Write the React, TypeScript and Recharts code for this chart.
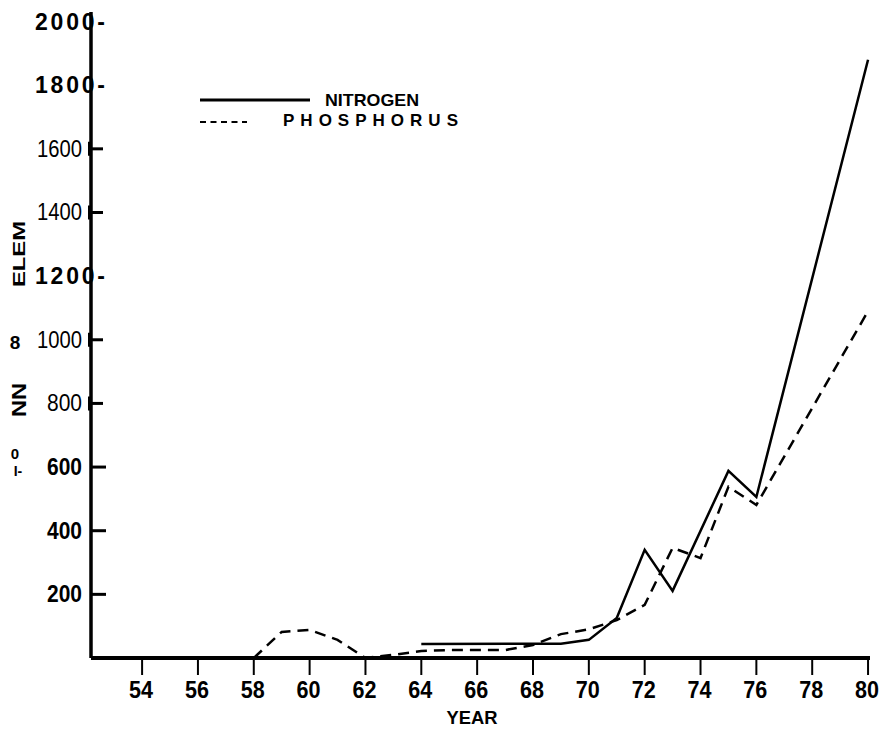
import { LineChart, Line, XAxis, YAxis, Legend } from "recharts";

// values (years 19xx)
const nitrogenYears = [64, 69, 70, 71, 72, 73, 75, 76, 80];
const nitrogenValues = [44, 45, 57, 126, 340, 211, 588, 506, 1880];

const phosphorusYears = [58, 59, 60, 61, 62, 63, 64, 65, 66, 67, 68, 69, 70, 71, 72, 73, 74, 75, 76, 80];
const phosphorusValues = [0, 82, 88, 57, 0, 10, 22, 25, 25, 25, 41, 75, 90, 119, 167, 346, 314, 538, 481, 1090];

const xTicks = [54, 56, 58, 60, 62, 64, 66, 68, 70, 72, 74, 76, 78, 80];
const yTicks = [200, 400, 600, 800, 1000, 1200, 1400, 1600, 1800, 2000];
const yTickLabels = ["200", "400", "600", "800", "1000", "1200-", "1400", "1600", "1800-", "2000-"];
// scan quirks: some labels printed with a trailing dash, some in a lighter face
const yTickDash = [false, false, false, false, false, true, false, false, true, true];
const yTickLight = [false, false, false, true, true, false, true, true, false, false];

const nitrogen = nitrogenYears.map((year, i) => ({ year, value: nitrogenValues[i] }));
const phosphorus = phosphorusYears.map((year, i) => ({ year, value: phosphorusValues[i] }));

const SANS = "'Liberation Sans', Arial, sans-serif";

const XTick = (props: any) => {
  const { x, y, payload } = props;
  return (
    <g>
      <line x1={x} y1={y} x2={x} y2={y + 17} stroke="#000" strokeWidth={2} />
      <text
        x={x - 1}
        y={y + 40}
        textAnchor="middle"
        fontFamily={SANS}
        fontWeight="bold"
        fontSize={23}
        textLength={24}
        lengthAdjust="spacingAndGlyphs"
        fill="#000"
      >
        {payload.value}
      </text>
    </g>
  );
};

const YTick = (props: any) => {
  const { x, y, payload } = props;
  const i = yTicks.indexOf(payload.value);
  const light = yTickLight[i];
  const dash = yTickDash[i];
  const label = yTickLabels[i];
  let right = x - 9;
  let len = label.length === 3 ? 35 : 45;
  if (dash) {
    right = x + 14;
    len = 70;
  }
  return (
    <g>
      {light && <line x1={x - 2} y1={y - 7} x2={x - 2} y2={y + 7} stroke="#000" strokeWidth={2} />}
      {!dash && <line x1={x} y1={y} x2={x + (light ? 12 : 15)} y2={y} stroke="#000" strokeWidth={3} />}
      <text
        x={right - len}
        y={y + 8}
        textAnchor="start"
        fontFamily={SANS}
        fontWeight={light ? "normal" : "bold"}
        fontSize={23}
        textLength={len}
        lengthAdjust={dash ? "spacing" : "spacingAndGlyphs"}
        fill="#000"
      >
        {label}
      </text>
    </g>
  );
};

const LegendBox = () => (
  <svg width={300} height={46}>
    <line x1={0} y1={12} x2={110} y2={12} stroke="#000" strokeWidth={3} />
    <text
      x={125}
      y={18}
      fontFamily={SANS}
      fontWeight="bold"
      fontSize={17}
      textLength={94}
      lengthAdjust="spacingAndGlyphs"
      fill="#000"
    >
      NITROGEN
    </text>
    <line x1={0} y1={34} x2={47} y2={34} stroke="#000" strokeWidth={2} strokeDasharray="6 4.5" />
    <text
      x={83}
      y={38}
      fontFamily={SANS}
      fontWeight="bold"
      fontSize={17}
      textLength={175}
      lengthAdjust="spacing"
      fill="#000"
    >
      PHOSPHORUS
    </text>
  </svg>
);

// stray characters left over from the scan along the left edge
const SideMarks = () => (
  <g fontFamily={SANS} fontWeight="bold" fill="#000">
    <text
      x={25}
      y={254}
      fontSize={17}
      textAnchor="middle"
      textLength={66}
      lengthAdjust="spacingAndGlyphs"
      transform="rotate(-90 25 254)"
    >
      ELEM
    </text>
    <text x={15} y={349} fontSize={19} textAnchor="middle">8</text>
    <text
      x={26}
      y={400}
      fontSize={20}
      textAnchor="middle"
      textLength={34}
      lengthAdjust="spacingAndGlyphs"
      transform="rotate(-90 26 400)"
    >
      NN
    </text>
    <text x={15} y={459} fontSize={15} textAnchor="middle">0</text>
    <text x={18} y={476} fontSize={14} textAnchor="middle">I-</text>
  </g>
);

export default function App() {
  return (
    <div style={{ position: "absolute", left: 0, top: 0, width: 881, height: 729, background: "#fff" }}>
      <LineChart width={881} height={729} margin={{ top: 12, right: 11, bottom: 0, left: 0 }}>
        <XAxis
          type="number"
          dataKey="year"
          domain={[52.17, 80.07]}
          ticks={xTicks}
          allowDataOverflow
          height={71}
          axisLine={{ stroke: "#000", strokeWidth: 4 }}
          tickLine={false}
          tickSize={0}
          tickMargin={0}
          tick={<XTick />}
          label={{
            content: (p: any) => (
              <text
                x={472}
                y={p.viewBox.y + 66}
                textAnchor="middle"
                fontFamily={SANS}
                fontWeight="bold"
                fontSize={19}
                textLength={51}
                lengthAdjust="spacingAndGlyphs"
                fill="#000"
              >
                YEAR
              </text>
            ),
          }}
        />
        <YAxis
          type="number"
          dataKey="value"
          domain={[0, 2030]}
          ticks={yTicks}
          allowDataOverflow
          width={91}
          axisLine={{ stroke: "#000", strokeWidth: 3.5 }}
          tickLine={false}
          tickSize={0}
          tickMargin={0}
          tick={<YTick />}
          label={{ content: () => <SideMarks /> }}
        />
        <Legend
          layout="vertical"
          verticalAlign="middle"
          align="center"
          content={() => <LegendBox />}
          wrapperStyle={{ position: "absolute", left: 200, top: 88, width: 300, height: 46 }}
        />
        <Line
          data={nitrogen}
          dataKey="value"
          name="NITROGEN"
          stroke="#000"
          strokeWidth={2.5}
          dot={false}
          isAnimationActive={false}
        />
        <Line
          data={phosphorus}
          dataKey="value"
          name="PHOSPHORUS"
          stroke="#000"
          strokeWidth={2.5}
          strokeDasharray="11 7"
          dot={false}
          isAnimationActive={false}
        />
      </LineChart>
    </div>
  );
}
